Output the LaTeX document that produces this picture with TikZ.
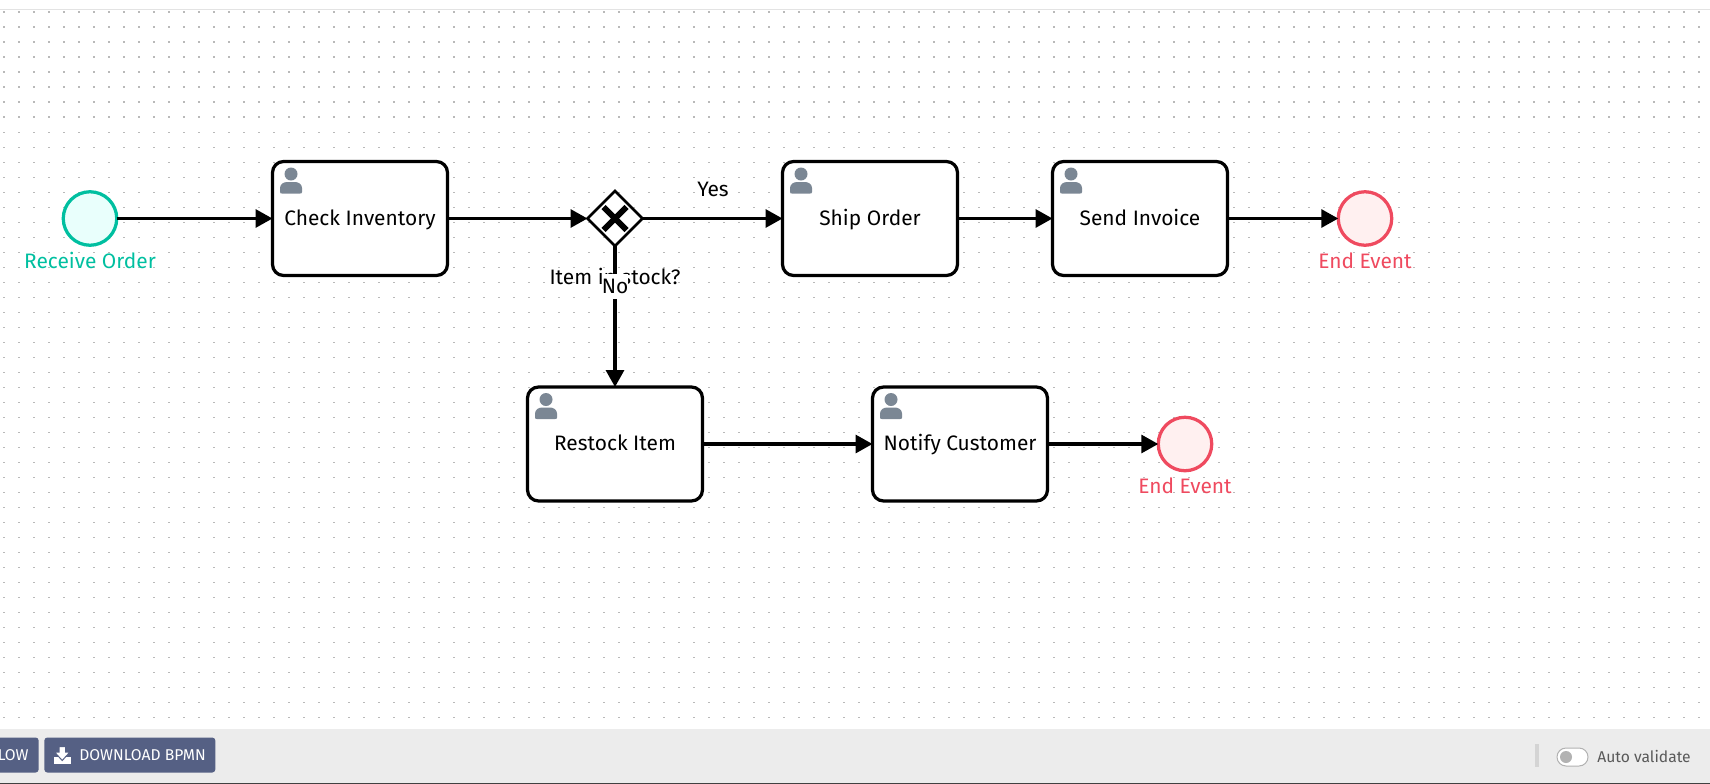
\documentclass[tikz,border=0pt]{standalone}
\usepackage{fontspec}
\setmainfont{Fira Sans}
\usetikzlibrary{arrows.meta,shapes.geometric}

\definecolor{startcol}{HTML}{00BFA0}
\definecolor{startfill}{HTML}{E9FFFC}
\definecolor{endcol}{HTML}{EF4A5F}
\definecolor{endfill}{HTML}{FFF0F0}
\definecolor{iconcol}{HTML}{7B8794}
\definecolor{btncol}{HTML}{556084}
\definecolor{barcol}{HTML}{ECECEC}

\newcommand{\lblfont}{\fontsize{11.9}{13}\selectfont}
\newcommand{\btnfont}{\fontsize{8.9}{10}\selectfont}

\tikzset{
  task/.style={draw, line width=0.065cm, fill=white, rounded corners=0.22cm, outer sep=0pt, minimum width=3.5cm, minimum height=2.28cm, inner sep=0pt, text height=1.7ex, text depth=0.25ex, font=\lblfont},
  startev/.style={circle, draw=startcol, fill=startfill, line width=0.065cm, outer sep=0pt, minimum size=1.07cm, inner sep=0pt},
  endev/.style={circle, draw=endcol, fill=endfill, line width=0.065cm, outer sep=0pt, minimum size=1.07cm, inner sep=0pt},
  gate/.style={diamond, aspect=1, draw, fill=white, line width=0.055cm, outer sep=0pt, minimum size=1.1cm, inner sep=0pt},
  flow/.style={line width=0.065cm, -{Triangle[length=0.34cm,width=0.36cm]}},
  lbl/.style={inner sep=0pt, font=\lblfont},
  btn/.style={fill=btncol, rounded corners=0.06cm, minimum height=0.7cm, inner sep=0pt, text=white, font=\btnfont},
  usericon/.pic={
    \fill[iconcol] (0,0) circle (6.5);
    \fill[iconcol] (-11,18) .. controls (-11,19.5) and (-10,19.5) .. (-9,19.5) -- (9,19.5) .. controls (10,19.5) and (11,19.5) .. (11,18) -- (11,14) .. controls (11,10) and (7,8) .. (4,8) -- (-4,8) .. controls (-7,8) and (-11,10) .. (-11,14) -- cycle;
  }
}

\begin{document}
\begin{tikzpicture}[x=0.02cm,y=-0.02cm]
\useasboundingbox (0,0) rectangle (1710,784);
% dotted canvas
\draw[gray!22, line width=0.03cm] (0,9.5) -- (1710,9.5);
\foreach \i in {0,...,113}
  \foreach \j in {0,...,47}
    \fill[gray!55] ({3+15*\i},{11.5+15*\j}) rectangle +(1.5,1.5);

% events and tasks
\node[startev] (recv) at (90,218.5) {};
\node[task] (check) at (360,218.5) {Check Inventory};
\node[gate] (stock) at (615,218.5) {};
\node[task] (ship) at (870,218.5) {Ship Order};
\node[task] (invoice) at (1140,218.5) {Send Invoice};
\node[endev] (endA) at (1365,218.5) {};
\node[task] (restock) at (615,444) {Restock Item};
\node[task] (notify) at (960,444) {Notify Customer};
\node[endev] (endB) at (1185,444) {};

\foreach \t in {check,ship,invoice,restock,notify}
  \path (\t.north west) ++(18.5,12.5) pic {usericon};

\draw[line width=0.115cm] (stock.center) ++(-11.5,-11.5) -- ++(23,23);
\draw[line width=0.115cm] (stock.center) ++(11.5,-11.5) -- ++(-23,23);

% flows
\draw[flow] (recv) -- (check);
\draw[flow] (check) -- (stock);
\draw[flow] (stock) -- (ship);
\draw[flow] (ship) -- (invoice);
\draw[flow] (invoice) -- (endA);
\draw[flow] (stock) -- (restock);
\draw[flow] (restock) -- (notify);
\draw[flow] (notify) -- (endB);

% labels
\node[lbl, text=startcol] (recvlbl) at (90,260) {Receive Order};
\node[lbl, text=endcol] (endAlbl) at (1365,260.5) {End Event};
\node[lbl, text=endcol] (endBlbl) at (1185,486) {End Event};
\node[lbl] (yes) at (713,189) {Yes};
\node[lbl] (stocklbl) at (615,276) {Item in stock?};
\node[lbl, fill=white, minimum width=0.48cm, minimum height=0.5cm] (no) at (615,286.5) {No};

% bottom bar
\fill[barcol] (0,729) rectangle (1710,784);
\draw[black!75, line width=0.04cm] (0,783.5) -- (1710,783.5);
\node[btn, minimum width=1.6cm, anchor=east] (btnflow) at (39,755) {};
\node[lbl, text=white, font=\btnfont, anchor=east] (btnflowlbl) at (29,755) {LOW};
\node[btn, minimum width=3.42cm, anchor=west] (btnbpmn) at (44,755) {};
\node[lbl, text=white, font=\btnfont, anchor=west] (btnbpmnlbl) at (79,755) {DOWNLOAD BPMN};
\fill[white] (54,757) rectangle (71,763.5);
\fill[white, draw=btncol, line width=0.02cm] (59,746.5) -- (65.5,746.5) -- (65.5,752) -- (70,752) -- (62.2,760.5) -- (54.5,752) -- (59,752) -- cycle;
\draw[black!17, line width=0.07cm] (1537,744) -- (1537,767);
\node[draw=gray!60, fill=white, line width=0.02cm, rounded corners=0.18cm, minimum width=0.62cm, minimum height=0.36cm, inner sep=0pt] (toggle) at (1572.5,757) {};
\fill[gray!60] (1566,757) circle (6);
\node[lbl, text=black!65, font=\btnfont, anchor=west] (autoval) at (1597,756) {Auto validate};
\end{tikzpicture}
\end{document}
